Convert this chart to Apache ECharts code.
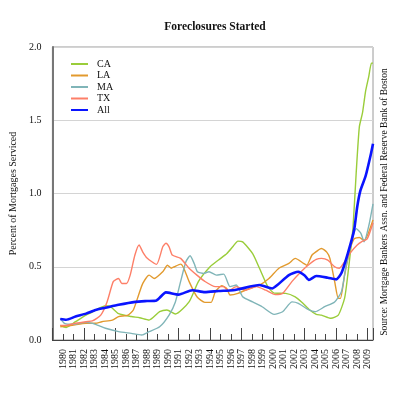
<!DOCTYPE html>
<html>
<head>
<meta charset="utf-8">
<script src="https://cdn.jsdelivr.net/npm/echarts@6/dist/echarts.min.js"></script>
<style>
  html, body { margin: 0; padding: 0; background: #fff; }
  #chart { width: 398px; height: 398px; }
</style>
</head>
<body>
<div id="chart"></div>
<script>
// values (percent of mortgages serviced)
var caYears = [1979.75, 1980.3, 1981.2, 1982.2, 1982.8, 1983.4, 1984.05, 1984.5, 1985.3, 1986.5, 1987.3, 1988.2, 1989.2, 1989.9, 1990.7, 1992.0, 1992.9, 1994.0, 1994.8, 1995.6, 1996.2, 1996.65, 1997.1, 1998.05, 1998.7, 1999.5, 2000.1, 2001.2, 2002.1, 2002.7, 2003.4, 2004.1, 2004.6, 2005.5, 2006.2, 2006.8, 2007.1, 2007.4, 2007.6, 2007.9, 2008.2, 2008.5, 2008.8, 2009.1, 2009.35, 2009.5];
var caValues = [0.10, 0.085, 0.125, 0.17, 0.19, 0.215, 0.234, 0.23, 0.18, 0.16, 0.152, 0.136, 0.193, 0.205, 0.177, 0.26, 0.40, 0.50, 0.546, 0.59, 0.64, 0.675, 0.67, 0.59, 0.49, 0.364, 0.32, 0.318, 0.295, 0.26, 0.21, 0.175, 0.17, 0.148, 0.17, 0.286, 0.443, 0.63, 0.77, 1.14, 1.455, 1.55, 1.70, 1.80, 1.89, 1.89];

var laYears = [1979.75, 1980.9, 1982.2, 1983.1, 1983.7, 1984.7, 1985.3, 1986.2, 1986.7, 1987.2, 1987.6, 1988.2, 1988.7, 1989.5, 1989.95, 1990.3, 1990.6, 1991.2, 1991.5, 1992.0, 1992.75, 1993.5, 1994.1, 1994.5, 1995.1, 1995.6, 1995.9, 1996.65, 1997.75, 1998.7, 1999.6, 2000.55, 2001.5, 2002.1, 2002.9, 2003.2, 2003.7, 2004.3, 2004.6, 2005.1, 2005.4, 2005.85, 2006.2, 2006.4, 2006.8, 2007.25, 2007.7, 2008.2, 2008.65, 2009.0, 2009.5];
var laValues = [0.09, 0.10, 0.114, 0.114, 0.125, 0.136, 0.16, 0.17, 0.205, 0.307, 0.387, 0.443, 0.42, 0.466, 0.51, 0.49, 0.50, 0.518, 0.49, 0.40, 0.295, 0.257, 0.257, 0.33, 0.37, 0.35, 0.307, 0.318, 0.352, 0.375, 0.42, 0.49, 0.523, 0.557, 0.523, 0.51, 0.58, 0.614, 0.625, 0.60, 0.557, 0.40, 0.284, 0.284, 0.443, 0.60, 0.69, 0.70, 0.68, 0.72, 0.82];

var maYears = [1979.75, 1980.15, 1980.9, 1982.2, 1983.1, 1984.05, 1985.3, 1986.5, 1987.5, 1988.2, 1989.2, 1990.1, 1990.7, 1991.2, 1991.7, 1992.1, 1992.5, 1992.8, 1993.4, 1993.9, 1994.6, 1995.3, 1995.9, 1996.5, 1997.1, 1998.05, 1998.95, 2000.1, 2000.9, 2001.8, 2002.4, 2003.4, 2004.0, 2004.9, 2005.85, 2006.5, 2006.9, 2007.4, 2007.9, 2008.35, 2008.65, 2009.1, 2009.5];
var maValues = [0.148, 0.114, 0.107, 0.12, 0.107, 0.08, 0.057, 0.045, 0.034, 0.057, 0.09, 0.17, 0.26, 0.40, 0.534, 0.575, 0.52, 0.466, 0.455, 0.466, 0.443, 0.45, 0.364, 0.375, 0.295, 0.26, 0.227, 0.175, 0.193, 0.26, 0.25, 0.205, 0.193, 0.227, 0.26, 0.33, 0.49, 0.648, 0.76, 0.728, 0.67, 0.78, 0.93];

var txYears = [1979.75, 1980.3, 1981.2, 1982.2, 1982.8, 1983.6, 1984.2, 1984.8, 1985.3, 1985.6, 1986.05, 1986.4, 1986.85, 1987.25, 1987.6, 1988.0, 1988.9, 1989.5, 1989.8, 1990.1, 1990.4, 1991.2, 1992.0, 1992.75, 1993.5, 1994.5, 1995.3, 1995.7, 1996.5, 1997.4, 1998.4, 1999.3, 2000.2, 2000.9, 2001.8, 2002.7, 2003.5, 2004.1, 2004.6, 2005.2, 2005.85, 2006.3, 2006.8, 2007.4, 2008.0, 2008.4, 2008.95, 2009.5];
var txValues = [0.10, 0.10, 0.114, 0.125, 0.13, 0.17, 0.26, 0.40, 0.42, 0.386, 0.386, 0.443, 0.58, 0.648, 0.60, 0.56, 0.516, 0.636, 0.66, 0.636, 0.58, 0.557, 0.49, 0.443, 0.40, 0.364, 0.364, 0.334, 0.364, 0.34, 0.364, 0.34, 0.31, 0.318, 0.40, 0.47, 0.52, 0.55, 0.557, 0.545, 0.50, 0.49, 0.534, 0.60, 0.648, 0.67, 0.69, 0.80];

var allYears = [1979.75, 1980.3, 1981.2, 1982.2, 1983.1, 1984.05, 1985.3, 1986.9, 1988.0, 1988.9, 1989.8, 1991.0, 1992.3, 1993.5, 1994.8, 1996.2, 1996.8, 1998.7, 1999.9, 2000.4, 2001.5, 2002.4, 2003.0, 2003.4, 2004.1, 2005.2, 2006.0, 2006.5, 2007.1, 2007.7, 2008.0, 2008.3, 2008.8, 2009.3, 2009.5];
var allValues = [0.143, 0.138, 0.16, 0.18, 0.205, 0.22, 0.24, 0.26, 0.266, 0.27, 0.325, 0.31, 0.34, 0.327, 0.334, 0.34, 0.348, 0.375, 0.352, 0.375, 0.443, 0.466, 0.44, 0.41, 0.437, 0.425, 0.414, 0.457, 0.59, 0.75, 0.91, 1.02, 1.12, 1.27, 1.34];

var seriesNames = ["CA", "LA", "MA", "TX", "All"];
var seriesColors = ["#9acd3a", "#e29a2e", "#80b5b8", "#fd7f68", "#0a14ff"];

var serif = "Liberation Serif";

function pairs(xs, ys) {
    return xs.map(function (x, i) { return [x, ys[i]]; });
}

var seriesData = [
    pairs(caYears, caValues),
    pairs(laYears, laValues),
    pairs(maYears, maValues),
    pairs(txYears, txValues),
    pairs(allYears, allValues)
];

var myChart = echarts.init(document.getElementById("chart"));
var option;

option = {
    animation: false,
    title: {
        text: "Foreclosures Started",
        left: 210,
        textAlign: "center",
        top: 16,
        textStyle: { fontFamily: serif, fontSize: 11.5, fontWeight: "bold", color: "#111" }
    },
    legend: {
        orient: "vertical",
        left: 66,
        top: 54,
        icon: "rect",
        itemWidth: 17,
        itemHeight: 2,
        itemGap: 1.5,
        data: seriesNames,
        textStyle: { fontFamily: serif, fontSize: 10, color: "#111", padding: [0, 0, 0, 4] }
    },
    grid: {
        left: 47,
        right: 25,
        top: 47,
        bottom: 58,
        show: true,
        borderColor: "#9a9a9a",
        borderWidth: 1
    },
    xAxis: [
        {
            type: "value",
            min: 1979,
            max: 2009.5,
            interval: 1,
            axisLine: { lineStyle: { color: "#444", width: 1 } },
            axisTick: { inside: true, length: 6, lineStyle: { color: "#444" } },
            splitLine: { show: false },
            axisLabel: {
                rotate: 90,
                margin: 9,
                showMinLabel: false,
                showMaxLabel: false,
                fontFamily: serif,
                fontSize: 10,
                color: "#111",
                formatter: function (v) { return Number.isInteger(v) ? String(v) : ""; }
            }
        },
        {
            type: "value",
            min: 1979,
            max: 2009.5,
            interval: 3,
            position: "bottom",
            axisLine: { show: false },
            axisTick: { inside: true, length: 12, lineStyle: { color: "#444" } },
            axisLabel: { show: false },
            splitLine: { show: false }
        }
    ],
    yAxis: {
        type: "value",
        min: 0,
        max: 2,
        interval: 0.5,
        name: "Percent of Mortgages Serviced",
        nameLocation: "middle",
        nameGap: 34,
        nameTextStyle: { fontFamily: serif, fontSize: 10, color: "#111" },
        axisLine: { show: true, lineStyle: { color: "#777", width: 2 } },
        axisTick: { show: false },
        splitLine: { lineStyle: { color: "#d4d4d4", width: 1 } },
        axisLabel: {
            margin: 11,
            fontFamily: serif,
            fontSize: 10,
            color: "#111",
            formatter: function (v) { return v.toFixed(1); }
        }
    },
    graphic: [
        {
            type: "text",
            x: 379,
            y: 202,
            rotation: Math.PI / 2,
            style: {
                text: "Source: Mortgage Bankers Assn. and Federal Reserve Bank of Boston",
                font: "9.5px " + serif,
                fill: "#111",
                align: "center",
                verticalAlign: "top"
            }
        }
    ],
    series: seriesNames.map(function (name, i) {
        return {
            name: name,
            type: "line",
            data: seriesData[i],
            symbol: "none",
            smooth: 0.2,
            color: seriesColors[i],
            lineStyle: { width: name === "All" ? 2.6 : 1.4 },
            z: name === "All" ? 5 : 2
        };
    })
};

option && myChart.setOption(option);
</script>
</body>
</html>
